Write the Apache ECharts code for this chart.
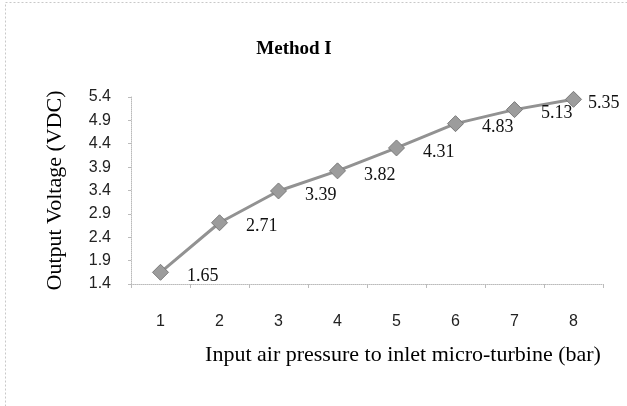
<!DOCTYPE html>
<html>
<head>
<meta charset="utf-8">
<script src="https://cdn.jsdelivr.net/npm/echarts@6/dist/echarts.min.js"></script>
<style>html,body{margin:0;padding:0;background:#fff;}#c{width:627px;height:406px;}</style>
</head>
<body>
<div id="c"></div>
<script>
var categories = ['1','2','3','4','5','6','7','8'];
var voltage = [1.65, 2.71, 3.39, 3.82, 4.31, 4.83, 5.13, 5.35];
var yTicks = [1.4, 1.9, 2.4, 2.9, 3.4, 3.9, 4.4, 4.9, 5.4];
var titleText = 'Method I';
var xName = 'Input air pressure to inlet micro-turbine (bar)';
var yName = 'Output Voltage (VDC)';

var chart = echarts.init(document.getElementById('c'), null, {renderer: 'canvas'});
var serif = "'Liberation Serif', 'Times New Roman', serif";
var sans = "'Liberation Sans', Arial, sans-serif";
var dataItems = voltage.map(function (v, i) {
  if (i === voltage.length - 1) {
    return {value: v, label: {distance: 6}};
  }
  return v;
});
chart.setOption({
  animation: false,
  backgroundColor: '#ffffff',
  title: {
    text: titleText,
    left: 289, top: 35, textAlign: 'center',
    textStyle: {fontFamily: serif, fontWeight: 'bold', fontSize: 19, color: '#000'}
  },
  graphic: [{
    type: 'rect', shape: {x: 5.5, y: 2.5, width: 630, height: 410},
    style: {fill: null, stroke: '#c8c8c8', lineWidth: 1, lineDash: [2, 2]}
  }],
  grid: {left: 131, right: 24, top: 97, bottom: 122, containLabel: false},
  xAxis: {
    type: 'category', data: categories, boundaryGap: true,
    name: xName, nameLocation: 'middle', nameGap: 60,
    nameTextStyle: {fontFamily: serif, fontSize: 22, color: '#000', padding: [0, 0, 0, 72]},
    axisLine: {lineStyle: {color: '#bbb', type: 'dotted', width: 1}},
    axisTick: {show: true, length: 4, inside: false, lineStyle: {color: '#bbb'}},
    axisLabel: {fontFamily: sans, fontSize: 16, color: '#222', margin: 30},
    splitLine: {show: false}
  },
  yAxis: {
    type: 'value', min: 1.4, max: 5.4,
    name: yName, nameLocation: 'middle', nameGap: 65, nameRotate: 90,
    nameTextStyle: {fontFamily: serif, fontSize: 22, color: '#000'},
    axisLine: {show: true, lineStyle: {color: '#bbb', type: 'dotted', width: 1}},
    axisTick: {show: true, length: 3, customValues: yTicks, lineStyle: {color: '#bbb'}},
    axisLabel: {fontFamily: sans, fontSize: 16, color: '#222', margin: 20, customValues: yTicks,
      formatter: function (v) { return v.toFixed(1); }},
    splitLine: {show: false}
  },
  series: [{
    type: 'line', data: dataItems,
    symbol: 'diamond', symbolSize: 16,
    lineStyle: {color: '#929292', width: 3},
    itemStyle: {color: '#9c9c9c', borderColor: '#7a7a7a', borderWidth: 1},
    label: {show: true, position: 'right', distance: 18, offset: [0, 4],
      fontFamily: serif, fontSize: 18, color: '#111'}
  }]
});
</script>
</body>
</html>
